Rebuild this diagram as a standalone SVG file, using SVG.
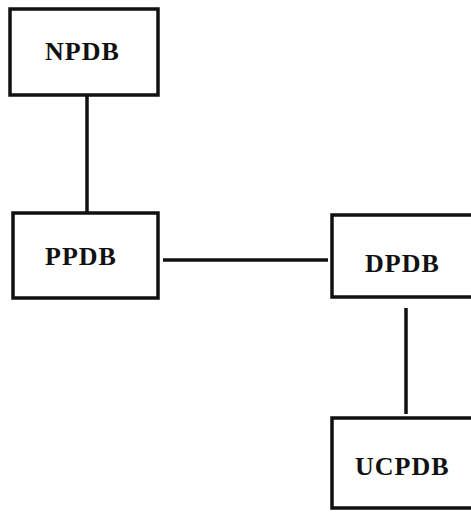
<svg xmlns="http://www.w3.org/2000/svg" width="471" height="514" viewBox="0 0 471 514">
<style>
.box{fill:#fff;stroke:#111;stroke-width:3.5}
.lbl{font-family:"Liberation Serif","DejaVu Serif",serif;font-size:26px;font-weight:bold;fill:#111;letter-spacing:1px}
.conn{stroke:#111;stroke-width:3.5;fill:none}
</style>
<rect width="471" height="514" fill="#fff"/>
<g id="connectors">
<line class="conn" x1="87" y1="96" x2="87" y2="212"/>
<line class="conn" x1="163" y1="260" x2="328" y2="260"/>
<line class="conn" x1="406" y1="308" x2="406" y2="414"/>
</g>
<g id="NPDB">
<rect class="box" x="10" y="9" width="148" height="86"/>
<text class="lbl" x="45" y="60">NPDB</text>
</g>
<g id="PPDB">
<rect class="box" x="13" y="213" width="145" height="85"/>
<text class="lbl" x="45" y="265">PPDB</text>
</g>
<g id="DPDB">
<rect class="box" x="332" y="215" width="150" height="82"/>
<text class="lbl" x="365" y="272">DPDB</text>
</g>
<g id="UCPDB">
<rect class="box" x="332" y="418" width="150" height="90"/>
<text class="lbl" x="355" y="475">UCPDB</text>
</g>
</svg>
